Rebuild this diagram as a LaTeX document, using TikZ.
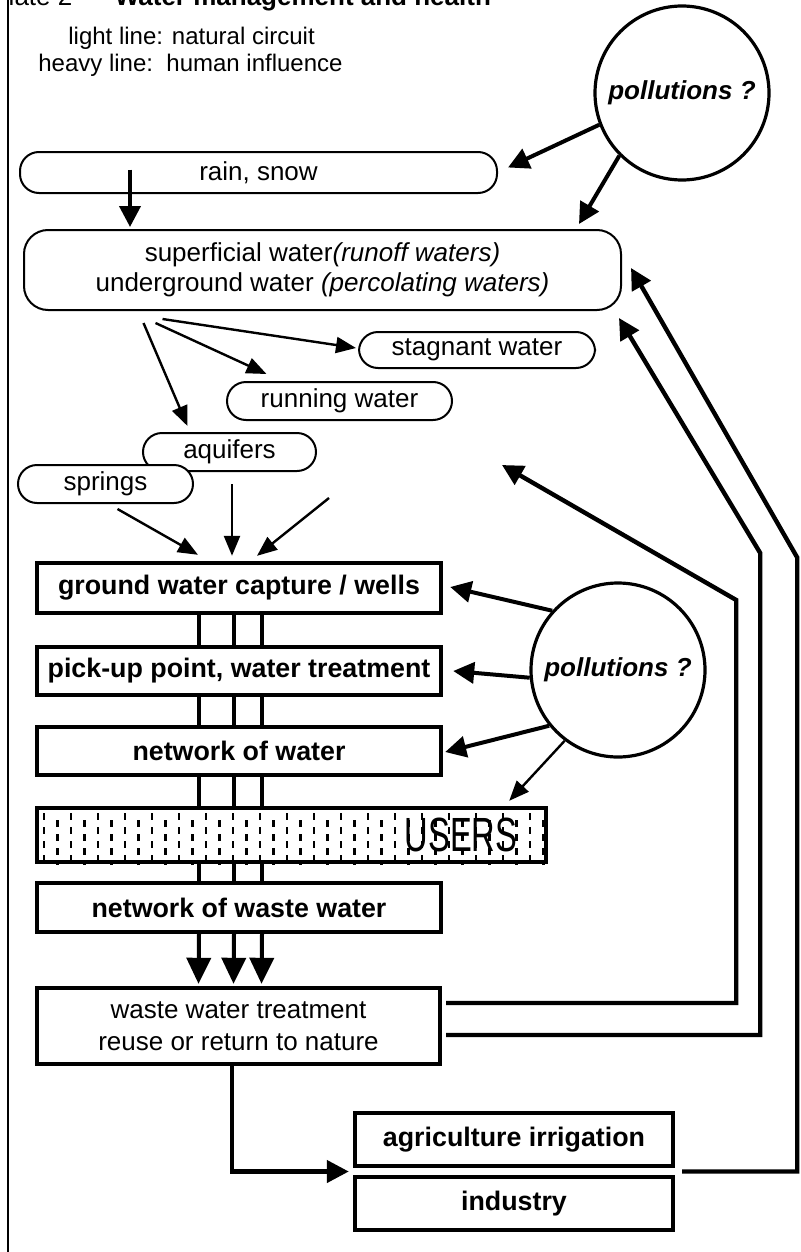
\documentclass[tikz,border=0pt]{standalone}
\usepackage{fontspec}
\setmainfont{Liberation Sans}
\usepackage{graphicx}
\usetikzlibrary{arrows.meta,calc}

\begin{document}
\begin{tikzpicture}[
  x=0.5pt, y=-0.5pt,
  lbl/.style={font=\fontsize{13}{15}\selectfont},
  oval/.style={draw, line width=1pt, rounded corners=9.5pt, fill=white, inner sep=0pt, lbl},
  box/.style={draw, line width=2.2pt, minimum width=202pt, inner sep=0pt,
    font=\fontsize{13.4}{15}\selectfont\bfseries},
  poll/.style={circle, draw, line width=1.6pt, minimum size=87pt, inner sep=0pt,
    font=\fontsize{13}{15}\selectfont\bfseries\itshape},
  thin/.style={line width=1.2pt, -{Triangle[length=10pt,width=8pt]}},
  heavy/.style={line width=2pt, -{Triangle[length=10.5pt,width=10.5pt]}},
  big/.style={line width=2pt, -{Triangle[length=13pt,width=12pt]}},
  pipe/.style={line width=2pt}
]
\useasboundingbox (0,0) rectangle (800,1252);
\draw[line width=1.2pt] (8,0) -- (8,1252);

% title and legend
\node[anchor=base west, inner sep=0pt, lbl] (title) at (-9,6)
  {Plate 2 --\hspace{0.8em}\textbf{Water management and health}};
\node[anchor=base west, inner sep=0pt, font=\fontsize{12}{14}\selectfont] (leg1) at (68,45)
  {light line: natural circuit};
\node[anchor=base west, inner sep=0pt, font=\fontsize{12}{14}\selectfont] (leg2) at (38,72)
  {heavy line:\ \ human influence};

% natural circuit
\node[poll] (poll1) at (682,93) {pollutions ?};
\node[oval, minimum width=238.5pt, minimum height=20.5pt] (rain) at (258.5,172.5) {rain, snow};
\node[oval, rounded corners=12pt, minimum width=298.5pt, minimum height=40pt, align=center]
  (super) at (322.5,270)
  {superficial water\textit{(runoff waters)}\\underground water \textit{(percolating waters)}};
\node[oval, minimum width=118pt, minimum height=18pt] (stag) at (477,350) {stagnant water};
\node[oval, minimum width=112.5pt, minimum height=19pt] (run) at (339.5,401) {running water};
\node[oval, minimum width=86.5pt, minimum height=19pt] (aquif) at (229.5,452) {aquifers};
\node[oval, minimum width=87.5pt, minimum height=19pt] (spring) at (105.5,484) {springs};

% human circuit
\node[box, minimum height=25pt] (ground) at (239,588) {ground water capture / wells};
\node[box, minimum height=24pt] (pickup) at (239,671) {pick-up point, water treatment};
\node[box, minimum height=24pt] (net) at (239,751) {network of water};
\node[box, minimum width=254.5pt, minimum height=27pt] (users) at (291.5,835) {};
\node[box, minimum height=24.5pt] (wnet) at (239,907.5) {network of waste water};
\node[box, minimum width=201.5pt, minimum height=38pt, align=center,
  font=\fontsize{13}{16}\selectfont] (treat) at (238.5,1026)
  {waste water treatment\\reuse or return to nature};
\node[box, minimum width=159pt, minimum height=26.5pt] (agri) at (514,1139.5) {agriculture irrigation};
\node[box, minimum width=159pt, minimum height=26.5pt] (indus) at (514,1203.5) {industry};
\node[poll] (poll2) at (618,670) {pollutions ?};

% dotted filling of the users box
\begin{scope}
  \clip (users.south west) rectangle (users.north east);
  \foreach \i in {0,...,37} {
    \pgfmathsetmacro{\xx}{44+13.5*\i}
    \pgfmathsetmacro{\yy}{813+7*mod(\i,2)}
    \foreach \k in {0,14,28,42}
      \draw[line width=1.4pt] (\xx,\yy+\k) -- (\xx,\yy+\k+7);
  }
\end{scope}
\node[inner sep=0pt, font=\fontsize{24}{24}\selectfont] (userstxt) at (461,835)
  {\scalebox{0.68}[1]{USERS}};

% arrows of the natural circuit
\draw[heavy] (poll1.201) -- ($(rain.east)+(10,-5)$);
\draw[heavy] (poll1.225) -- ($(super.north east)+(-43,-5)$);
\draw[heavy] ($(rain.west)+(111,-3)$) -- ($(super.north west)+(107,-2)$);
\draw[thin] ($(super.south)+(-160,8)$) -- ($(stag.west)+(-2,-2)$);
\draw[thin] ($(super.south)+(-167,12)$) -- ($(run.north)+(-73,-7)$);
\draw[thin] ($(super.south)+(-179,12)$) -- ($(aquif.north)+(-42,-6)$);
\draw[thin] ($(spring.south)+(12,5)$) -- ($(ground.north)+(-41,-6)$);
\draw[thin] ($(aquif.south)+(2.5,12)$) -- ($(ground.north)+(-7,-5)$);
\draw[thin] ($(run.south)+(-10.5,77)$) -- ($(ground.north)+(18,-5)$);

% pollution of the human circuit
\draw[heavy] (poll2.138) -- ($(ground.east)+(7,-1)$);
\draw[heavy] (poll2.185) -- ($(pickup.east)+(10,0)$);
\draw[heavy] (poll2.219) -- ($(net.east)+(2,1)$);
\draw[thin] (poll2.233) -- ($(users.north east)+(-39,-5)$);

% pipes between the boxes
\foreach \o in {-40,-5,23} {
  \draw[pipe] ($(ground.south)+(\o,0)$) -- ($(pickup.north)+(\o,0)$);
  \draw[pipe] ($(pickup.south)+(\o,0)$) -- ($(net.north)+(\o,0)$);
  \draw[pipe] ($(net.south)+(\o,0)$) -- ($(net.south |- users.north)+(\o,0)$);
  \draw[pipe] ($(net.south |- users.south)+(\o,0)$) -- ($(wnet.north)+(\o,0)$);
  \draw[big] ($(wnet.south)+(\o,0)$) -- ($(treat.north)+(\o,-2)$);
}

% reuse and return to nature
\coordinate (gapw) at ($(agri.south west)!0.5!(indus.north west)$);
\coordinate (gape) at ($(agri.south east)!0.5!(indus.north east)$);
\coordinate (ret) at (502,465);
\draw[line width=2.2pt, -{Triangle[length=11pt,width=11pt]}]
  ($(treat.south)+(-6.5,0)$) |- ($(gapw)+(-4,0)$);
\draw[heavy, line width=2.2pt] ($(treat.east)+(4,-23)$) -- ++(290,0) -- ++(0,-403) -- (ret);
\draw[heavy, line width=2.2pt] ($(treat.east)+(4,9)$) -- ++(314,0) -- ++(0,-482)
  -- ($(super.south east)+(-3,7)$);
\draw[heavy, line width=2.2pt] ($(gape)+(7,0)$) -- ++(115,0) -- ++(0,-614)
  -- ($(super.east)+(9,-2)$);

\end{tikzpicture}
\end{document}
